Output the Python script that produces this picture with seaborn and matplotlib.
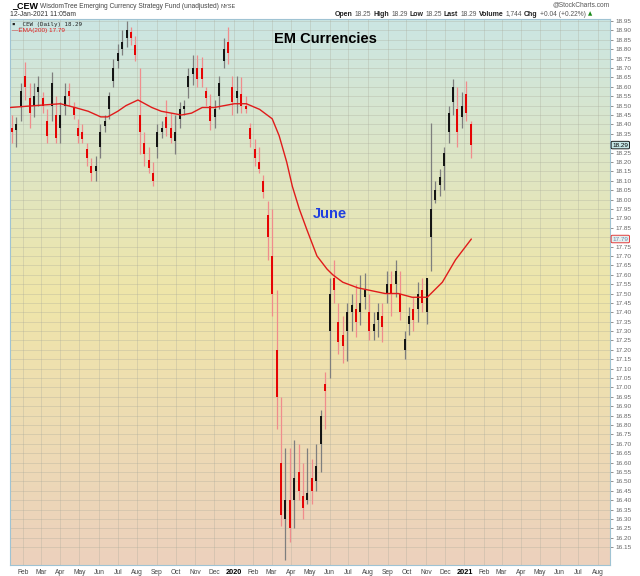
import numpy as np
import pandas as pd
import matplotlib
matplotlib.use("Agg")
import matplotlib.pyplot as plt
from matplotlib.colors import LinearSegmentedColormap
import seaborn as sns

# weekly bars (week starting 2019-01-14)
week_start = "2019-01-14"
opens = [18.38, 18.37, 18.50, 18.66, 18.54, 18.50, 18.57, 18.54, 18.42, 18.50,
         18.45, 18.38, 18.50, 18.58, 18.49, 18.38, 18.36, 18.27, 18.18, 18.15,
         18.28, 18.39, 18.48, 18.63, 18.74, 18.80, 18.86, 18.89, 18.82, 18.45,
         18.30, 18.21, 18.14, 18.28, 18.36, 18.44, 18.38, 18.31, 18.43, 18.48,
         18.60, 18.67, 18.70, 18.70, 18.58, 18.50, 18.44, 18.55, 18.74, 18.84,
         18.60, 18.54, 18.56, 18.50, 18.38, 18.27, 18.20, 18.10, 17.92, 17.70,
         17.20, 16.60, 16.30, 16.40, 16.40, 16.55, 16.42, 16.40, 16.52, 16.50,
         16.70, 17.02, 17.30, 17.58, 17.35, 17.28, 17.30, 17.40, 17.42, 17.40,
         17.48, 17.40, 17.30, 17.36, 17.38, 17.50, 17.55, 17.55, 17.50, 17.20,
         17.34, 17.42, 17.42, 17.52, 17.40, 17.80, 18.00, 18.08, 18.18, 18.36,
         18.52, 18.48, 18.44, 18.56, 18.40]
highs = [18.45, 18.44, 18.62, 18.73, 18.62, 18.62, 18.66, 18.57, 18.48, 18.68,
         18.55, 18.52, 18.62, 18.62, 18.52, 18.43, 18.40, 18.30, 18.22, 18.23,
         18.40, 18.45, 18.57, 18.75, 18.83, 18.90, 18.95, 18.92, 18.87, 18.70,
         18.36, 18.28, 18.20, 18.40, 18.42, 18.53, 18.46, 18.45, 18.52, 18.53,
         18.70, 18.77, 18.77, 18.76, 18.60, 18.56, 18.53, 18.66, 18.86, 18.92,
         18.66, 18.66, 18.65, 18.55, 18.41, 18.32, 18.28, 18.13, 17.99, 17.95,
         17.52, 16.95, 16.68, 16.68, 16.72, 16.70, 16.60, 16.68, 16.62, 16.70,
         16.88, 17.08, 17.58, 17.68, 17.45, 17.38, 17.45, 17.50, 17.55, 17.60,
         17.61, 17.50, 17.40, 17.45, 17.45, 17.62, 17.62, 17.68, 17.62, 17.30,
         17.43, 17.48, 17.56, 17.58, 17.58, 18.41, 18.10, 18.16, 18.28, 18.50,
         18.64, 18.60, 18.57, 18.63, 18.42]
lows = [18.30, 18.28, 18.42, 18.53, 18.38, 18.44, 18.50, 18.46, 18.30, 18.42,
        18.30, 18.30, 18.45, 18.50, 18.43, 18.30, 18.30, 18.18, 18.10, 18.10,
        18.22, 18.36, 18.43, 18.60, 18.70, 18.77, 18.81, 18.82, 18.74, 18.24,
        18.18, 18.14, 18.07, 18.22, 18.33, 18.34, 18.30, 18.24, 18.38, 18.45,
        18.54, 18.61, 18.60, 18.60, 18.50, 18.37, 18.38, 18.48, 18.70, 18.72,
        18.45, 18.46, 18.46, 18.46, 18.28, 18.18, 18.14, 18.01, 17.68, 17.38,
        16.78, 16.26, 16.08, 16.18, 16.25, 16.40, 16.30, 16.38, 16.38, 16.45,
        16.55, 16.78, 17.05, 17.45, 17.18, 17.13, 17.14, 17.30, 17.27, 17.33,
        17.42, 17.25, 17.25, 17.27, 17.24, 17.45, 17.38, 17.48, 17.36, 17.15,
        17.28, 17.30, 17.35, 17.40, 17.34, 17.62, 17.98, 18.02, 18.05, 18.30,
        18.45, 18.28, 18.38, 18.42, 18.22]
closes = [18.36, 18.40, 18.58, 18.60, 18.46, 18.55, 18.60, 18.50, 18.34, 18.62,
          18.33, 18.45, 18.55, 18.55, 18.45, 18.34, 18.32, 18.22, 18.14, 18.18,
          18.36, 18.42, 18.55, 18.70, 18.78, 18.84, 18.90, 18.86, 18.77, 18.36,
          18.24, 18.17, 18.10, 18.36, 18.38, 18.38, 18.33, 18.36, 18.48, 18.50,
          18.66, 18.70, 18.64, 18.64, 18.54, 18.42, 18.48, 18.62, 18.80, 18.78,
          18.52, 18.58, 18.50, 18.48, 18.32, 18.22, 18.16, 18.04, 17.80, 17.50,
          16.95, 16.32, 16.40, 16.25, 16.52, 16.45, 16.36, 16.44, 16.45, 16.58,
          16.85, 16.98, 17.50, 17.52, 17.24, 17.22, 17.40, 17.44, 17.35, 17.45,
          17.52, 17.30, 17.34, 17.40, 17.32, 17.55, 17.50, 17.62, 17.40, 17.26,
          17.38, 17.36, 17.50, 17.45, 17.58, 17.95, 18.05, 18.12, 18.25, 18.46,
          18.60, 18.36, 18.50, 18.46, 18.29]

ema_dates = ["2019-01-11", "2019-04-01", "2019-04-24", "2019-05-15", "2019-06-04",
             "2019-06-15", "2019-07-01", "2019-07-14", "2019-08-02", "2019-08-24",
             "2019-09-08", "2019-10-10", "2019-10-26", "2019-11-12", "2019-12-01",
             "2019-12-17", "2020-01-02", "2020-01-21", "2020-02-11", "2020-03-02",
             "2020-03-13", "2020-03-25", "2020-04-03", "2020-04-14", "2020-04-26",
             "2020-05-12", "2020-05-28", "2020-06-06", "2020-06-22", "2020-07-16",
             "2020-08-28", "2020-09-18", "2020-10-10", "2020-11-03", "2020-11-27",
             "2020-12-18", "2021-01-12"]
ema_values = [18.49, 18.51, 18.49, 18.47, 18.44, 18.44, 18.47, 18.50, 18.53, 18.49,
              18.47, 18.45, 18.46, 18.49, 18.49, 18.50, 18.51, 18.51, 18.48, 18.43,
              18.34, 18.20, 18.07, 17.95, 17.84, 17.70, 17.63, 17.60, 17.56, 17.53,
              17.50, 17.50, 17.48, 17.48, 17.56, 17.68, 17.79]

month_ticks = pd.date_range("2019-02-01", "2021-08-01", freq="MS")
month_labels = [str(d.year) if d.month == 1 else d.strftime("%b") for d in month_ticks]
y_ticks = np.round(np.arange(16.15, 18.951, 0.05), 2)
hidden_ticks = [18.30, 17.80]  # covered by the price boxes

W, H = 640, 576
sns.set_theme(style="white")
plt.rcParams["font.family"] = ["Liberation Sans", "DejaVu Sans"]

fig = plt.figure(figsize=(6.4, 5.76), dpi=100)
pos = [10 / W, 1 - 565 / H, 600 / W, 546 / H]

# gradient background
bg = fig.add_axes(pos, zorder=0)
cmap = LinearSegmentedColormap.from_list(
    "bg", [(0, "#ecd1bd"), (0.5, "#efe6a9"), (1, "#cbe5e3")])
bg.imshow(np.linspace(0, 1, 256).reshape(-1, 1), cmap=cmap, aspect="auto",
          origin="lower", extent=[0, 1, 0, 1])
bg.set_axis_off()

ax = fig.add_axes(pos, zorder=1)
ax.patch.set_visible(False)
ax.set_axisbelow(True)

dates = pd.date_range(week_start, periods=len(closes), freq="7D")
o = np.array(opens)
c = np.array(closes)
up = c >= o
ax.vlines(dates, lows, highs, colors=np.where(up, "#7e7e7e", "#f08c8c"), lw=0.9, zorder=2)
ax.vlines(dates, np.minimum(o, c), np.maximum(o, c),
          colors=np.where(up, "#111111", "#e60000"), lw=1.4, zorder=3)

ema_df = pd.DataFrame({"date": pd.to_datetime(ema_dates), "ema": ema_values})
sns.lineplot(data=ema_df, x="date", y="ema", color="#e01b1b", lw=1.0, ax=ax, zorder=4)

ax.set_xlim(pd.Timestamp("2019-01-11"), pd.Timestamp("2021-08-20"))
ax.set_ylim(16.055, 18.961)
ax.set_xlabel("")
ax.set_ylabel("")

ax.set_xticks(month_ticks)
ax.set_xticklabels(month_labels)
ax.set_yticks(y_ticks)
ax.set_yticklabels(["" if v in hidden_ticks else f"{v:.2f}" for v in y_ticks])
ax.yaxis.tick_right()
ax.tick_params(axis="y", length=2.5, width=0.5, colors="#666666", labelsize=4.6, pad=1.5,
               right=True, left=False)
ax.tick_params(axis="x", length=0, labelsize=4.8, pad=3, colors="#444444")
for lab in ax.get_xticklabels():
    if lab.get_text() in ("2020", "2021"):
        lab.set_fontweight("bold")
        lab.set_color("black")
        lab.set_fontsize(5.3)

ax.grid(True, color="#a9a99a", lw=0.5, alpha=0.45)
for sp in ax.spines.values():
    sp.set_color("#9fc3d3")
    sp.set_linewidth(0.8)

# price boxes on the right axis
ax.text(1.004, 18.29, "18.29", transform=ax.get_yaxis_transform(), va="center", ha="left",
        fontsize=4.6, color="black", zorder=10, clip_on=False,
        bbox=dict(boxstyle="round,pad=0.2", fc="#c6e6e6", ec="black", lw=0.6))
ax.text(1.004, 17.79, "17.79", transform=ax.get_yaxis_transform(), va="center", ha="left",
        fontsize=4.6, color="#6a8ab0", zorder=10, clip_on=False,
        bbox=dict(boxstyle="round,pad=0.2", fc="#e6f0ee", ec="#e02020", lw=0.6))

# legend inside the plot
ax.text(0.003, 0.995, "\u25aa _CEW (Daily) 18.29", transform=ax.transAxes, va="top", ha="left",
        fontsize=4.2, family=["DejaVu Sans Mono", "DejaVu Sans"], color="#222222")
ax.text(0.003, 0.983, "\u2014EMA(200) 17.79", transform=ax.transAxes, va="top", ha="left",
        fontsize=4.6, color="#e01b1b")

# annotations
fig.text(325 / W, 1 - 39 / H, "EM Currencies", ha="center", va="center",
         fontsize=10.5, fontweight="bold", color="black")
fig.text(330 / W, 1 - 214 / H, "June", ha="center", va="center",
         fontsize=10.5, fontweight="bold", color="#1f3ee0")

# header
renderer = fig.canvas.get_renderer()


def text_run(x_px, y_px, parts, gap=2.0):
    x = x_px
    for s, kw in parts:
        t = fig.text(x / W, 1 - y_px / H, s, ha="left", va="center", **kw)
        x += t.get_window_extent(renderer=renderer).width + gap
    return x


text_run(12, 6, [("_CEW", dict(fontsize=6.5, fontweight="bold", color="black")),
                 ("WisdomTree Emerging Currency Strategy Fund (unadjusted)",
                  dict(fontsize=4.8, color="#444444")),
                 ("NYSE", dict(fontsize=4.0, color="#444444"))])
fig.text(10 / W, 1 - 15 / H, "12-Jan-2021 11:05am", ha="left", va="center",
         fontsize=4.9, color="#333333")
fig.text(610 / W, 1 - 4.5 / H, "@StockCharts.com", ha="right", va="center",
         fontsize=4.8, color="#555555")

bold = dict(fontsize=5.0, fontweight="bold", color="#222222")
norm = dict(fontsize=4.8, color="#555555")
text_run(335, 14, [("Open", bold), ("18.25", norm), ("High", bold), ("18.29", norm),
                   ("Low", bold), ("18.25", norm), ("Last", bold), ("18.29", norm),
                   ("Volume", bold), ("1,744", norm), ("Chg", bold),
                   ("+0.04 (+0.22%)", norm),
                   ("\u25b2", dict(fontsize=4.0, color="#1a8a1a", family=["DejaVu Sans"]))])

fig.savefig("out.png", dpi=100)
